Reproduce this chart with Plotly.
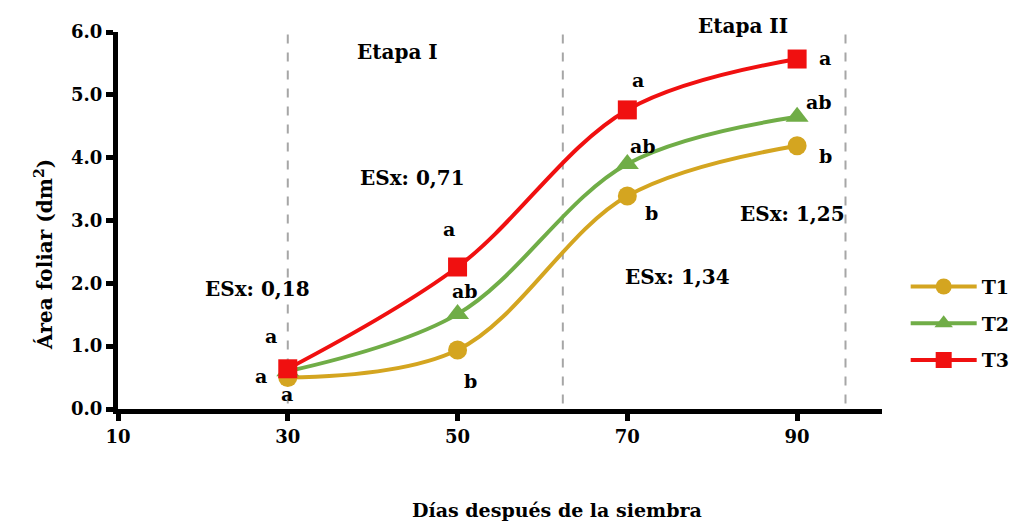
import plotly.graph_objects as go

# Days after sowing and leaf area (dm²) per treatment
dias = [30, 50, 70, 90]
t1 = [0.50, 0.94, 3.39, 4.19]
t2 = [0.60, 1.51, 3.90, 4.65]
t3 = [0.64, 2.26, 4.76, 5.57]

series_names = ["T1", "T2", "T3"]
series_colors = ["#D4A520", "#70AD47", "#F01010"]
series_symbols = ["circle", "triangle-up", "square"]

# Stage boundaries (dashed lines) and their top ends
limites = [30, 62.4, 95.7]
limites_top = [6.0, 6.25, 6.05]

# Stage labels and standard errors
etapas = ["Etapa I", "Etapa II"]
etapas_x = [42.9, 83.6]
etapas_y = [5.68, 6.09]

esx_text = ["ESx: 0,18", "ESx: 0,71", "ESx: 1,34", "ESx: 1,25"]
esx_x = [26.4, 44.7, 75.9, 89.4]
esx_y = [1.91, 3.68, 2.10, 3.10]

# Significance letters
letras = ["a", "a", "a", "a", "ab", "b", "a", "ab", "b", "a", "ab", "b"]
letras_x = [28.0, 26.8, 29.9, 49.0, 50.9, 51.5, 71.2, 71.9, 72.9, 93.3, 92.6, 93.3]
letras_y = [1.16, 0.53, 0.24, 2.87, 1.88, 0.45, 5.23, 4.19, 3.12, 5.58, 4.89, 4.03]

Y_MAX = 6.0
FONT = "DejaVu Serif"
BOLD = dict(family=FONT, color="black", weight="bold")

fig = go.Figure()

for xv, top in zip(limites, limites_top):
    fig.add_shape(type="line", x0=xv, x1=xv, y0=-0.2, y1=top, xref="x", yref="y",
                  line=dict(color="#A6A6A6", width=2, dash="dash"), layer="below")

for name, vals, col, sym in zip(series_names, [t1, t2, t3], series_colors, series_symbols):
    fig.add_trace(go.Scatter(
        x=dias, y=vals, name=name, legendgroup=name, mode="lines+markers",
        line=dict(color=col, width=4, shape="spline", smoothing=1.0),
        marker=dict(color=col, symbol=sym, size=19 if sym != "triangle-up" else 20),
    ))

# Text labels positioned in data units (y given relative to the axis span so
# labels above the top of the range are still drawn)
def etiqueta(text, xv, yv, size):
    fig.add_annotation(x=xv, y=yv / Y_MAX, xref="x", yref="y domain", text=text,
                       xanchor="center", yanchor="middle",
                       showarrow=False, font=dict(BOLD, size=size))

for t, xv, yv in zip(etapas, etapas_x, etapas_y):
    etiqueta(t, xv, yv, 20)
for t, xv, yv in zip(esx_text, esx_x, esx_y):
    etiqueta(t, xv, yv, 20)
for t, xv, yv in zip(letras, letras_x, letras_y):
    etiqueta(t, xv, yv, 19)

# Axis titles
fig.add_annotation(text="Días después de la siembra", showarrow=False,
                   xref="paper", yref="paper", x=(557 - 118) / 764, y=-(510 - 409) / 377,
                   xanchor="center", yanchor="middle", font=dict(BOLD, size=19))
fig.add_annotation(text="Área foliar (dm<sup>2</sup>)", showarrow=False, textangle=-90,
                   xref="paper", yref="paper", x=-(118 - 44) / 764, y=(409 - 255) / 377,
                   xanchor="center", yanchor="middle", font=dict(BOLD, size=20))

fig.update_layout(
    width=1013, height=523,
    margin=dict(l=118, r=131, t=32, b=114, autoexpand=False),
    paper_bgcolor="white", plot_bgcolor="white",
    font=dict(BOLD, size=17),
    showlegend=True,
    legend=dict(x=1.031, y=0.375, xanchor="left", yanchor="top",
                font=dict(BOLD, size=19),
                itemwidth=66, tracegroupgap=9, bgcolor="rgba(0,0,0,0)"),
    xaxis=dict(range=[10, 100], tickvals=[10, 30, 50, 70, 90],
               showgrid=False, zeroline=False,
               showline=True, linecolor="black", linewidth=5,
               ticks="outside", ticklen=7, tickwidth=5, tickcolor="black",
               tickfont=dict(BOLD, size=18)),
    yaxis=dict(range=[0, Y_MAX], tickvals=[0, 1, 2, 3, 4, 5, 6],
               ticktext=["0.0", "1.0", "2.0", "3.0", "4.0", "5.0", "6.0"],
               showgrid=False, zeroline=False,
               showline=True, linecolor="black", linewidth=5,
               ticks="outside", ticklen=7, tickwidth=5, tickcolor="black",
               tickfont=dict(BOLD, size=18)),
)

fig.write_html("out.html")
